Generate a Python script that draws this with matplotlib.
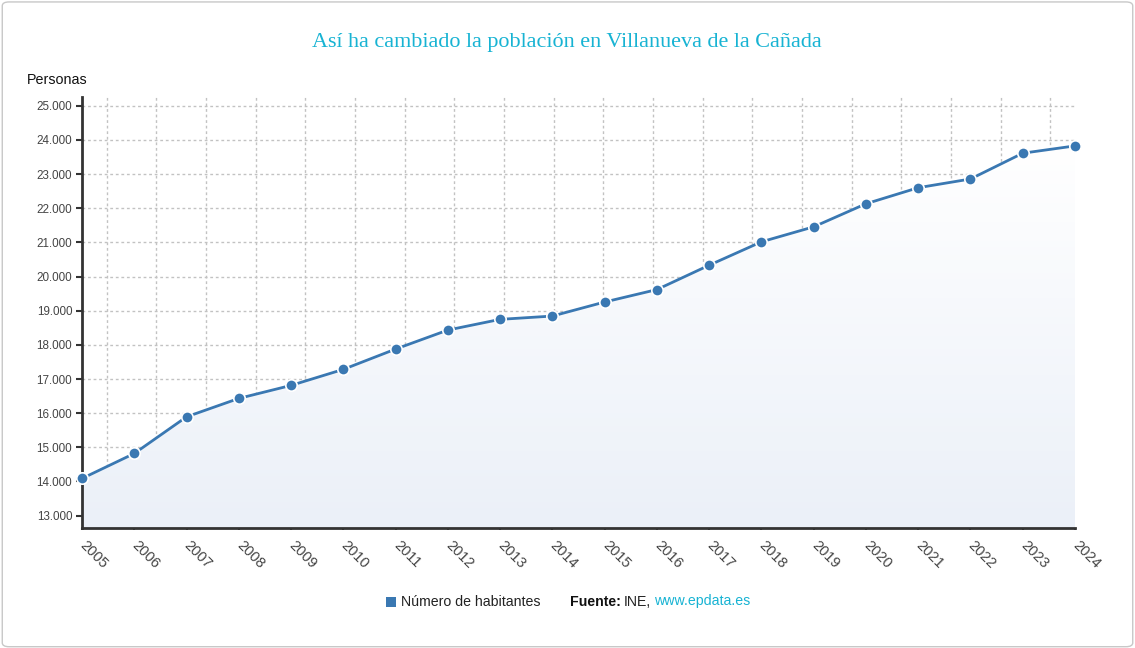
import numpy as np
import matplotlib
matplotlib.use('Agg')
import matplotlib.pyplot as plt
from matplotlib.patches import FancyBboxPatch, Rectangle
from matplotlib.ticker import FuncFormatter

years = list(range(2005, 2025))
habitantes = [14088, 14820, 15893, 16432, 16813, 17282, 17876, 18433, 18746, 18843,
              19254, 19618, 20331, 21016, 21455, 22130, 22600, 22855, 23610, 23824]
y_ticks = list(range(13000, 25001, 1000))

title = 'Así ha cambiado la población en Villanueva de la Cañada'
series_name = 'Número de habitantes'

line_color = '#3a78b2'
cyan = '#17b3d3'

plt.rcParams['font.family'] = ['Liberation Sans', 'DejaVu Sans']

fig = plt.figure(figsize=(11.35, 6.48), dpi=100)
# rounded frame around the whole chart
fig.patches.append(FancyBboxPatch((0.002, 0.002), 0.996, 0.995, boxstyle='round,pad=0,rounding_size=0.006',
                                  transform=fig.transFigure, facecolor='none', edgecolor='#c8c8c8', lw=1))

ax = fig.add_axes([82 / 1135, 1 - 528.3 / 648, (1075 - 82) / 1135, (528.3 - 96.7) / 648])
ax.set_facecolor('none')
ymin, ymax = 12630, 25264

# gradient area under the line
poly = ax.fill_between(years, habitantes, ymin, color='none', lw=0)
grad = np.linspace(0, 1, 256).reshape(-1, 1)
top_c = np.array([255, 255, 255]) / 255
bot_c = np.array([235, 240, 248]) / 255
img = top_c + (bot_c - top_c) * grad
img = img.reshape(256, 1, 3)
im = ax.imshow(img, extent=[years[0], years[-1], ymin, max(habitantes)], aspect='auto',
               origin='upper', zorder=1)
im.set_clip_path(poly.get_paths()[0], transform=ax.transData)
ax.set_xlim(years[0], years[-1])
ax.set_ylim(ymin, ymax)

ax.plot(years, habitantes, color=line_color, lw=2, zorder=3,
        marker='o', ms=8.2, mfc=line_color, mec='white', mew=1.2, clip_on=False)

# grid
ax.set_yticks(y_ticks)
ax.set_xticks(years)
step = (years[-1] - years[0]) / 20
ax.set_xticks([years[0] + step * (i + 0.5) for i in range(20)], minor=True)
ax.grid(which='major', axis='y', color='#c2c2c2', ls=(0, (2, 2)), lw=1, zorder=0)
ax.grid(which='minor', axis='x', color='#c2c2c2', ls=(0, (2, 2)), lw=1, zorder=0)
ax.grid(which='major', axis='x', visible=False)
ax.set_axisbelow(True)

for s in ['top', 'right']:
    ax.spines[s].set_visible(False)
for s in ['left', 'bottom']:
    ax.spines[s].set_color('#333333')
    ax.spines[s].set_linewidth(2)

ax.yaxis.set_major_formatter(FuncFormatter(lambda v, p: f'{int(v):,}'.replace(',', '.')))
ax.tick_params(axis='y', which='major', length=4, width=1.5, color='#333333',
               labelsize=8.4, labelcolor='#444444', pad=3)
ax.tick_params(axis='x', which='major', length=1.5, width=1.5, color='#333333',
               labelsize=10.5, labelcolor='#444444', pad=9.5)
ax.tick_params(axis='x', which='minor', length=0)
for lab in ax.get_xticklabels():
    lab.set_rotation(-45)
    lab.set_ha('left')
    lab.set_va('center')
    lab.set_rotation_mode('anchor')

fig.text(567 / 1135, 1 - 43 / 648, title, ha='center', va='center', fontsize=15.9,
         family='Liberation Serif', color=cyan)
fig.text(27 / 1135, 1 - 80 / 648, 'Personas', ha='left', va='center', fontsize=10.3, color='#111111')

# legend / source line
fig.patches.append(Rectangle((386 / 1135, 1 - 606.5 / 648), 10 / 1135, 10 / 648,
                             transform=fig.transFigure, facecolor=line_color, edgecolor='none'))
fig.text(401 / 1135, 1 - 601.5 / 648, series_name, ha='left', va='center', fontsize=10.2, color='#222222')
t1 = fig.text(570 / 1135, 1 - 601.5 / 648, 'Fuente:', ha='left', va='center', fontsize=10.2,
              weight='bold', color='#111111')
fig.canvas.draw()
bb = t1.get_window_extent()
t2 = fig.text(bb.x1 / 1135 + 3 / 1135, 1 - 601.5 / 648, 'INE,', ha='left', va='center', fontsize=10.2,
              color='#222222')
fig.canvas.draw()
bb2 = t2.get_window_extent()
fig.text(bb2.x1 / 1135 + 3 / 1135, 1 - 601.5 / 648, 'www.epdata.es', ha='left', va='center',
         fontsize=10.2, color=cyan)

fig.savefig('out.png', dpi=100)
